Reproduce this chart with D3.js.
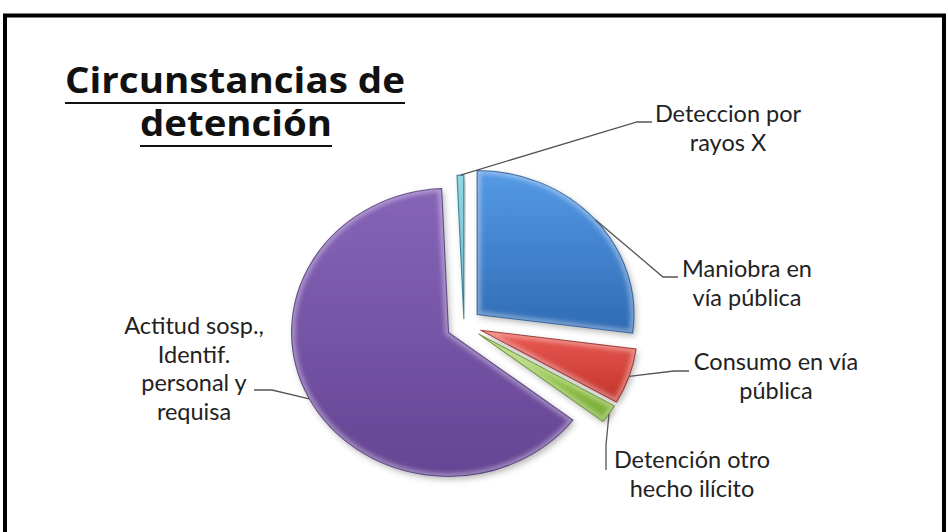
<!DOCTYPE html>
<html>
<head>
<meta charset="utf-8">
<script src="https://cdn.jsdelivr.net/npm/d3@7"></script>
<style>
  body { margin: 0; background: #fff; }
  svg { display: block; }
</style>
</head>
<body>
<svg id="chart" width="948" height="532"></svg>
<script>
// data (counts, Excel default series order)
const categories = [
  "Maniobra en vía pública",
  "Consumo en vía pública",
  "Detención otro hecho ilícito",
  "Actitud sosp., Identif. personal y requisa",
  "Deteccion por rayos X"
];
const values = [39, 9, 3, 92, 1];
const labelLines = [
  ["Maniobra en", "vía pública"],
  ["Consumo en vía", "pública"],
  ["Detención otro", "hecho ilícito"],
  ["Actitud sosp.,", "Identif.", "personal y", "requisa"],
  ["Deteccion por", "rayos X"]
];
const titleLines = ["Circunstancias de", "detención"];

// styling
const colors = [
  { top: "#559ae6", bot: "#2f6bb4", edge: "#23548e" },
  { top: "#ea5a52", bot: "#c2322b", edge: "#8c2520" },
  { top: "#a6d457", bot: "#78ab32", edge: "#5a8522" },
  { top: "#8664b8", bot: "#654493", edge: "#4c3474" },
  { top: "#55c2da", bot: "#2a93ad", edge: "#1f6f84" }
];
// how far each slice is pulled out
const explode = [16, 16, 16, 16, 6];
// label layout: text centre, first baseline, leader elbow + end
const labelLayout = [
  { x: 747, y: 277, elbow: [663, 277], end: [678, 277] },
  { x: 776, y: 370, elbow: [674, 371], end: [689, 371] },
  { x: 692, y: 468, elbow: [606, 445], end: [606, 470] },
  { x: 194, y: 334, elbow: [272, 390], end: [254, 390] },
  { x: 728, y: 122, elbow: [637, 122], end: [652, 122] }
];

const cx = 464, cy = 325;
const radius = 144;
const stretch = 1.09;   // picture is a bit wider than tall
const lineH = 28.5;

const svg = d3.select("#chart");
const defs = svg.append("defs");

// frame
svg.append("rect")
  .attr("x", 5).attr("y", 15.5)
  .attr("width", 939).attr("height", 540)
  .attr("fill", "none")
  .attr("stroke", "#000")
  .attr("stroke-width", 4);

// title
const title = svg.append("g")
  .attr("font-family", "'Open Sans', Lato, sans-serif")
  .attr("font-weight", "bold")
  .attr("font-size", 35)
  .attr("fill", "#111");
const titleBox = [{ y: 93, w: 340, cxT: 235 }, { y: 136, w: 192, cxT: 236 }];
titleLines.forEach(function(t, i) {
  title.append("text")
    .attr("x", titleBox[i].cxT)
    .attr("y", titleBox[i].y)
    .attr("text-anchor", "middle")
    .attr("textLength", titleBox[i].w)
    .attr("lengthAdjust", "spacingAndGlyphs")
    .text(t);
  title.append("line")
    .attr("x1", titleBox[i].cxT - titleBox[i].w / 2)
    .attr("x2", titleBox[i].cxT + titleBox[i].w / 2)
    .attr("y1", titleBox[i].y + 10)
    .attr("y2", titleBox[i].y + 10)
    .attr("stroke", "#111")
    .attr("stroke-width", 2.2);
});

// gradients + filters
colors.forEach(function(c, i) {
  let g = defs.append("linearGradient")
    .attr("id", "grad" + i)
    .attr("x1", 0).attr("y1", 0).attr("x2", 0).attr("y2", 1);
  g.append("stop").attr("offset", "0%").attr("stop-color", c.top);
  g.append("stop").attr("offset", "100%").attr("stop-color", c.bot);
});

let shadow = defs.append("filter").attr("id", "shadow")
  .attr("x", "-20%").attr("y", "-20%").attr("width", "140%").attr("height", "140%");
shadow.append("feDropShadow")
  .attr("dx", 2).attr("dy", 3).attr("stdDeviation", 3)
  .attr("flood-color", "#000").attr("flood-opacity", 0.28);

let soft = defs.append("filter").attr("id", "soft");
soft.append("feGaussianBlur").attr("stdDeviation", 2);

const pie = d3.pie().sort(null).value(d => d);
const arcs = pie(values);
const arc = d3.arc().innerRadius(0).outerRadius(radius);

const pieG = svg.append("g")
  .attr("transform", `translate(${cx},${cy}) scale(${stretch},1)`);

function offset(d) {
  let mid = (d.startAngle + d.endAngle) / 2;
  let e = explode[d.index];
  return [e * Math.sin(mid), -e * Math.cos(mid)];
}

const slices = pieG.selectAll("g.slice")
  .data(arcs)
  .enter()
  .append("g")
  .attr("class", "slice")
  .attr("transform", d => `translate(${offset(d)[0]},${offset(d)[1]})`);

slices.append("clipPath")
  .attr("id", (d, i) => "clip" + i)
  .append("path")
  .attr("d", arc);

slices.append("path")
  .attr("d", arc)
  .attr("fill", (d, i) => `url(#grad${i})`)
  .attr("filter", "url(#shadow)");

// bevel highlight
slices.append("path")
  .attr("d", arc)
  .attr("fill", "none")
  .attr("stroke", "#fff")
  .attr("stroke-opacity", 0.35)
  .attr("stroke-width", 7)
  .attr("clip-path", (d, i) => `url(#clip${i})`)
  .attr("filter", "url(#soft)");

slices.append("path")
  .attr("d", arc)
  .attr("fill", "none")
  .attr("stroke", (d, i) => colors[i].edge)
  .attr("stroke-width", 1)
  .attr("stroke-opacity", 0.8);

// leader lines and labels
const labelG = svg.append("g")
  .attr("font-family", "Lato, 'Open Sans', sans-serif")
  .attr("font-size", 23.5)
  .attr("fill", "#222");

arcs.forEach(function(d, i) {
  let mid = (d.startAngle + d.endAngle) / 2;
  let o = offset(d);
  let sx = cx + stretch * (o[0] + radius * Math.sin(mid));
  let sy = cy + o[1] - radius * Math.cos(mid);
  let L = labelLayout[i];
  labelG.append("path")
    .attr("d", d3.line()([[sx, sy], L.elbow, L.end]))
    .attr("fill", "none")
    .attr("stroke", "#555")
    .attr("stroke-width", 1.3);
  let t = labelG.append("text")
    .attr("text-anchor", "middle");
  labelLines[i].forEach(function(line, j) {
    t.append("tspan")
      .attr("x", L.x)
      .attr("y", L.y + j * lineH)
      .text(line);
  });
});
</script>
</body>
</html>
